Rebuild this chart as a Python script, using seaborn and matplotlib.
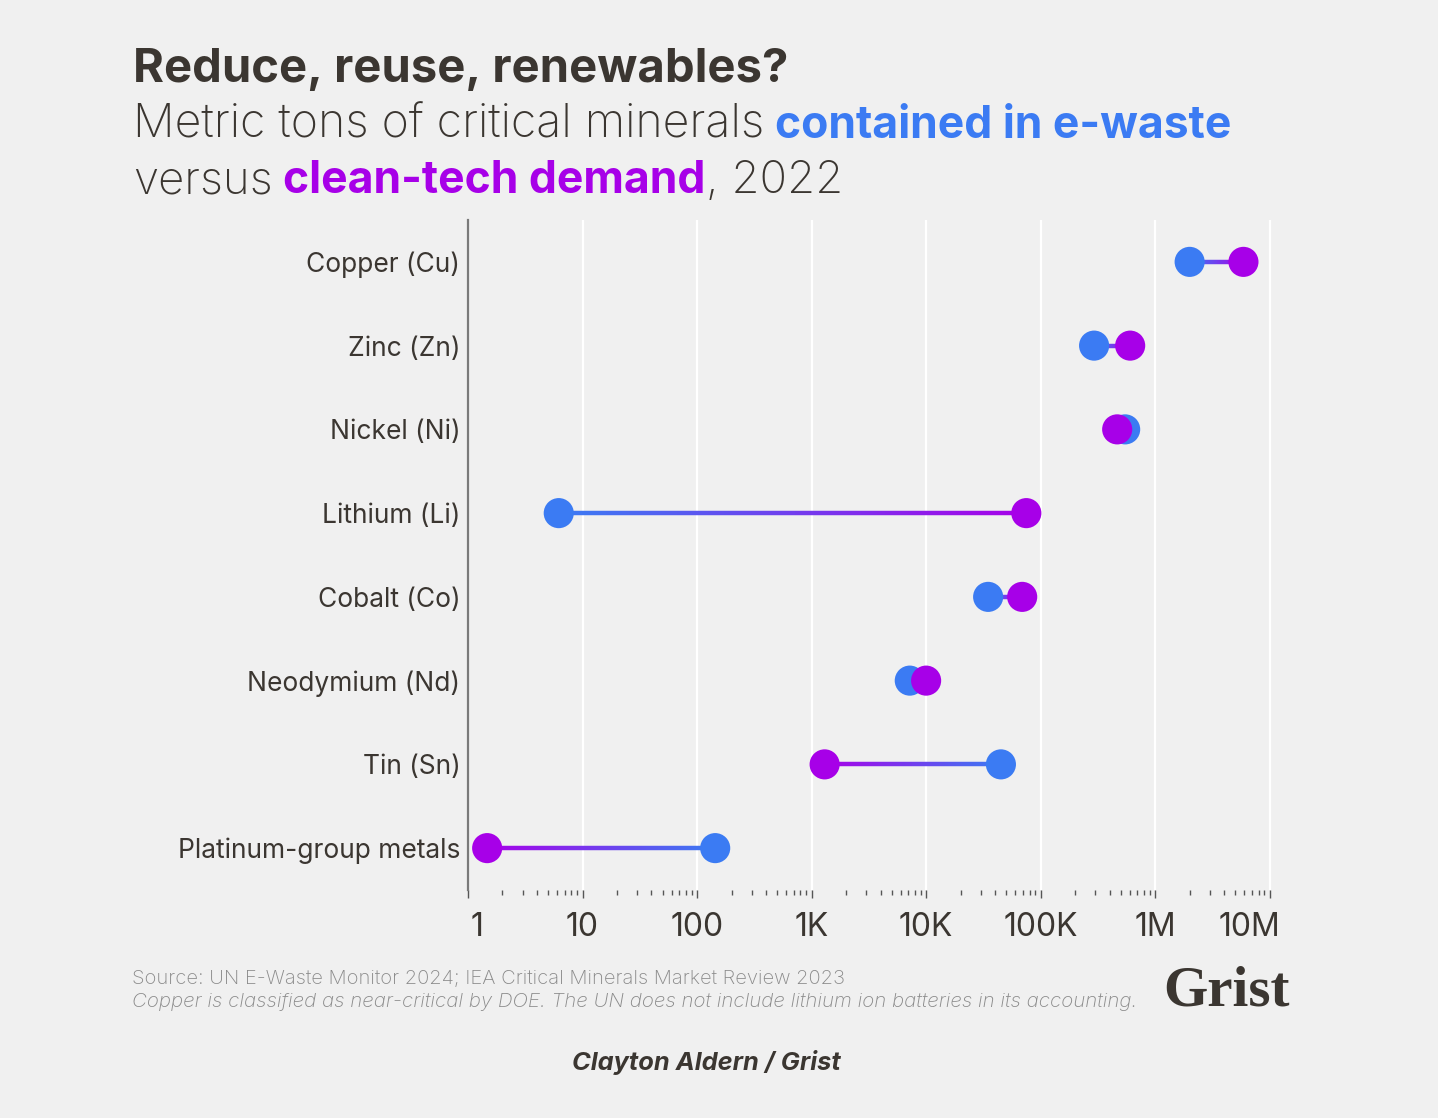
import matplotlib

matplotlib.use("Agg")
import matplotlib.colors as mcolors
import matplotlib.pyplot as plt
import matplotlib.transforms as mtransforms
import numpy as np
import pandas as pd
import seaborn as sns
from matplotlib.collections import LineCollection
from matplotlib.ticker import FixedLocator, LogLocator, NullFormatter

# data (metric tons, 2022)
minerals = [
    "Copper (Cu)",
    "Zinc (Zn)",
    "Nickel (Ni)",
    "Lithium (Li)",
    "Cobalt (Co)",
    "Neodymium (Nd)",
    "Tin (Sn)",
    "Platinum-group metals",
]
ewaste_tons = [2.0e6, 2.93e5, 5.47e5, 6.2, 3.48e4, 7.2e3, 4.5e4, 144]
demand_tons = [5.9e6, 6.05e5, 4.66e5, 7.5e4, 6.9e4, 1.0e4, 1.3e3, 1.47]
tick_values = [1, 10, 100, 1e3, 1e4, 1e5, 1e6, 1e7]
tick_labels = ["1", "10", "100", "1K", "10K", "100K", "1M", "10M"]

BG = "#f0f0f0"
INK = "#3b3631"
BLUE = "#3b7bf3"
PURPLE = "#a700e8"
FONT = "Inter"

sns.set_theme(style="white")
plt.rcParams["font.family"] = [FONT, "DejaVu Sans"]

W, H = 1438, 1118
fig = plt.figure(figsize=(W / 100, H / 100), dpi=100, facecolor=BG)
ax = fig.add_axes([468 / W, 1 - 890 / H, (1280 - 468) / W, (890 - 220) / H])
ax.set_facecolor(BG)
ax.set_xscale("log")

# long-form table: e-waste first so clean-tech dots sit on top
df = pd.DataFrame(
    {
        "Mineral": minerals * 2,
        "Tons": ewaste_tons + demand_tons,
        "Source": ["ewaste"] * len(minerals) + ["demand"] * len(minerals),
    }
)
df["pos"] = df["Mineral"].map({m: i for i, m in enumerate(minerals)})

# gradient connectors from blue to purple
c0 = np.array(mcolors.to_rgb(BLUE))
c1 = np.array(mcolors.to_rgb(PURPLE))
segs, cols = [], []
for i, (b, p) in enumerate(zip(ewaste_tons, demand_tons)):
    xs = np.geomspace(b, p, 120)
    t = np.linspace(0, 1, len(xs) - 1)
    for j in range(len(xs) - 1):
        segs.append([(xs[j], i), (xs[j + 1], i)])
        cols.append(c0 * (1 - t[j]) + c1 * t[j])
lc = LineCollection(segs, colors=cols, linewidths=3.2, zorder=2, capstyle="butt")
ax.add_collection(lc)

sns.scatterplot(
    data=df,
    x="Tons",
    y="pos",
    hue="Source",
    palette={"ewaste": BLUE, "demand": PURPLE},
    s=470,
    linewidth=0,
    legend=False,
    ax=ax,
    zorder=3,
)

ax.set_xlim(1, 10**7.09)
ax.set_ylim(len(minerals) - 0.5, -0.5)
ax.set_xlabel("")
ax.set_ylabel("")

ax.set_yticks(range(len(minerals)))
ax.set_yticklabels(minerals)
ax.tick_params(axis="y", length=0, pad=5.5, labelsize=19, labelcolor=INK)

ax.xaxis.set_major_locator(FixedLocator(tick_values))
ax.set_xticklabels(tick_labels)
ax.xaxis.set_minor_locator(LogLocator(base=10, subs=np.arange(2, 10), numticks=20))
ax.xaxis.set_minor_formatter(NullFormatter())
ax.tick_params(
    axis="x", which="major", length=6, width=1, color="#555555",
    pad=10, labelsize=23, labelcolor=INK, bottom=True,
)
ax.tick_params(axis="x", which="minor", length=3.5, width=1, color="#555555", bottom=True)

ax.grid(axis="x", which="major", color="white", linewidth=1.6, zorder=0)
ax.set_axisbelow(True)
for side in ["top", "right", "bottom"]:
    ax.spines[side].set_visible(False)
ax.spines["left"].set_color("#7a7a7a")
ax.spines["left"].set_linewidth(1.6)

# nudge the outer tick labels inward like the original
labels = ax.get_xticklabels()
labels[0].set_transform(labels[0].get_transform() + mtransforms.ScaledTranslation(9 / 100, 0, fig.dpi_scale_trans))
labels[-1].set_transform(labels[-1].get_transform() + mtransforms.ScaledTranslation(-20 / 100, 0, fig.dpi_scale_trans))

# title block
fig.text(133 / W, 1 - 82 / H, "Reduce, reuse, renewables?", fontsize=34, weight="bold",
         color=INK, va="baseline")


def rich_line(x_px, y_px, parts):
    renderer = fig.canvas.get_renderer()
    x = x_px
    for text, color, weight, size, gap in parts:
        if gap:
            probe1 = fig.text(0, 0, "x x", fontsize=size, weight=weight)
            probe2 = fig.text(0, 0, "xx", fontsize=size, weight=weight)
            x += probe1.get_window_extent(renderer).width - probe2.get_window_extent(renderer).width
            probe1.remove()
            probe2.remove()
        t = fig.text(x / W, 1 - y_px / H, text, fontsize=size, color=color,
                     weight=weight, va="baseline")
        x = t.get_window_extent(renderer).x1


rich_line(133, 138, [
    ("Metric tons of critical minerals", INK, "light", 33.4, False),
    ("contained in e-waste", BLUE, "bold", 32, True),
])
rich_line(133, 193, [
    ("versus", INK, "light", 32.8, False),
    ("clean-tech demand", PURPLE, "bold", 32, True),
    (", 2022", INK, "light", 32.8, False),
])

# footer
fig.text(132 / W, 1 - 984 / H, "Source: UN E-Waste Monitor 2024; IEA Critical Minerals Market Review 2023",
         fontsize=14.5, color="#8a8a8a", va="baseline", weight="light")
fig.text(132 / W, 1 - 1007 / H,
         "Copper is classified as near-critical by DOE. The UN does not include lithium ion batteries in its accounting.",
         fontsize=14.75, color="#8a8a8a", va="baseline", style="italic", weight="light")
fig.text(1290 / W, 1 - 1006 / H, "Grist", fontsize=41, color=INK, ha="right", va="baseline",
         family=["Liberation Serif", "DejaVu Serif"], weight="bold")
fig.text(706 / W, 1 - 1070 / H, "Clayton Aldern / Grist", fontsize=18.3, color=INK,
         ha="center", va="baseline", weight="bold", style="italic")

fig.savefig("out.png", dpi=100, facecolor=BG)
